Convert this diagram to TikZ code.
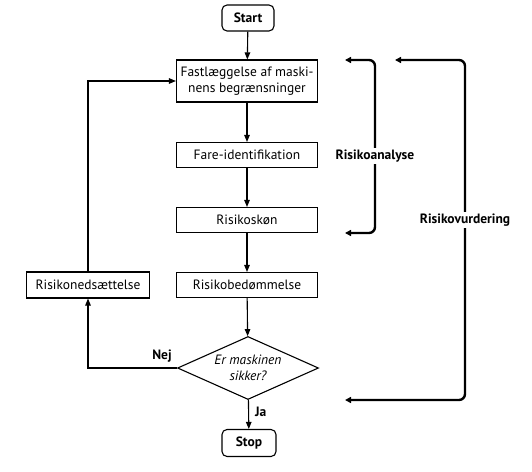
\documentclass[tikz,border=0pt]{standalone}
\usepackage{fontspec}
\setmainfont{PT Sans}
\usetikzlibrary{arrows.meta,shapes.geometric}
\begin{document}
\begin{tikzpicture}[x=1pt,y=-1pt,
  every node/.style={font=\fontsize{13.5}{15.5}\selectfont},
  box/.style={draw,line width=1.1pt,minimum width=141pt,minimum height=25pt,inner sep=0pt,align=center},
  term/.style={draw,line width=1.1pt,rounded corners=5pt,minimum height=26pt,inner sep=0pt,font=\fontsize{13.5}{15.5}\selectfont\bfseries},
  flow/.style={line width=1.1pt,-{Triangle[length=7pt,width=5.5pt]}},
  bracket/.style={line width=2.4pt,rounded corners=6pt,{Triangle[length=6pt,width=6pt]}-{Triangle[length=6pt,width=6pt]}},
  lbl/.style={font=\fontsize{13.5}{15.5}\selectfont\bfseries,inner sep=1pt},
  blbl/.style={font=\fontsize{13.5}{15.5}\selectfont\bfseries,fill=white,inner sep=2pt}]
\useasboundingbox (0,0) rectangle (532,471);
\node[term,minimum width=52pt] (start) at (248,18) {Start};
\node[box,minimum height=42pt] (fast) at (247,81) {Fastlæggelse af maski-\\nens begrænsninger};
\node[box] (fare) at (247,155) {Fare-identifikation};
\node[box] (skon) at (247,220) {Risikoskøn};
\node[box] (bed) at (247,285) {Risikobedømmelse};
\node[draw,line width=1.1pt,diamond,aspect=2.24,minimum width=141pt,minimum height=63pt,inner sep=0pt,align=center,font=\fontsize{13.5}{15.5}\selectfont\itshape] (dia) at (248,368) {Er maskinen\\sikker?};
\node[term,minimum width=54pt,minimum height=27pt] (stop) at (249,443) {Stop};
\node[box,minimum width=123pt,minimum height=26pt] (ned) at (88,285) {Risikonedsættelse};
\draw[flow] (start) -- (fast);
\draw[flow] (fast) -- (fare);
\draw[flow] (fare) -- (skon);
\draw[flow] (skon) -- (bed);
\draw[flow] (bed) -- (dia);
\draw[flow] (dia) -- (stop) node[lbl,pos=0.4,right=5pt] (ja) {Ja};
\draw[flow] (dia.west) -| (ned.south);
\node[lbl] (nej) at (162,356) {Nej};
\draw[flow] (ned.north) |- (fast.west);
\coordinate (ra1) at (345,60);
\coordinate (ra2) at (345,233);
\coordinate (rv1) at (395,60);
\coordinate (rv2) at (345,400);
\draw[bracket] (ra1) -- (375,60) -- (375,233) -- (ra2);
\draw[bracket] (rv1) -- (465,60) -- (465,400) -- (rv2);
\node[blbl] (ra) at (375,156) {Risikoanalyse};
\node[blbl] (rv) at (465,220) {Risikovurdering};
\end{tikzpicture}
\end{document}
